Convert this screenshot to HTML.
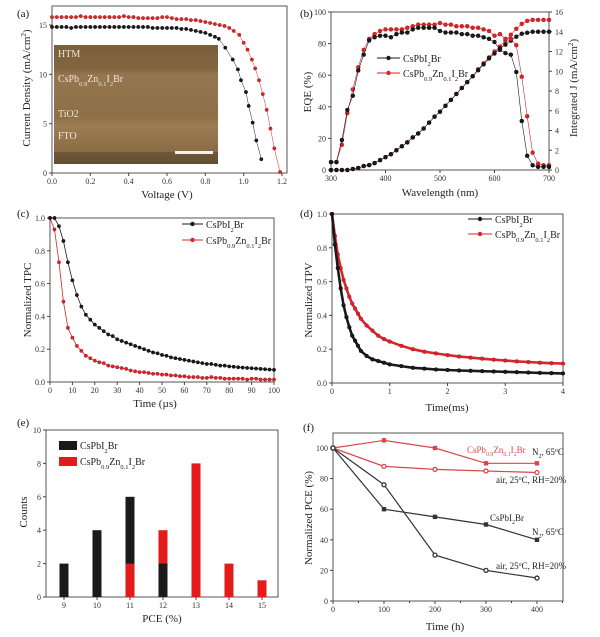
<!DOCTYPE html>
<html><head><meta charset="utf-8"><style>
html,body{margin:0;padding:0;background:#fff;}
svg{display:block;font-family:"Liberation Serif",serif;}
</style></head><body>
<svg id="fig" width="600" height="637" viewBox="0 0 600 637"></svg>
<script>
// ---- data: panel a (J-V) ----
const vBlack=[0,0.025,0.05,0.075,0.1,0.125,0.15,0.175,0.2,0.225,0.25,0.275,0.3,0.325,0.35,0.375,0.4,0.425,0.45,0.475,0.5,0.525,0.55,0.575,0.6,0.625,0.65,0.675,0.7,0.725,0.75,0.775,0.8,0.825,0.85,0.87,0.904,0.943,0.97,0.986,1.012,1.026,1.047,1.066,1.092];
const jBlack=[14.8,14.8,14.8,14.8,14.7,14.8,14.8,14.8,14.8,14.8,14.8,14.8,14.8,14.8,14.8,14.8,14.8,14.8,14.8,14.8,14.8,14.7,14.7,14.7,14.7,14.7,14.7,14.6,14.6,14.5,14.4,14.3,14.2,14.0,13.8,13.6,12.7,11.5,10.5,9.4,8.2,6.8,5.1,3.3,1.4];
const vRed=[0,0.025,0.05,0.075,0.1,0.125,0.15,0.175,0.2,0.225,0.25,0.275,0.3,0.325,0.35,0.375,0.4,0.425,0.45,0.475,0.5,0.525,0.55,0.575,0.6,0.625,0.65,0.675,0.7,0.725,0.75,0.775,0.8,0.825,0.85,0.875,0.9,0.925,0.948,0.977,1.0,1.02,1.043,1.06,1.08,1.1,1.12,1.14,1.16,1.19];
const jRed=[15.8,15.8,15.8,15.8,15.8,15.8,15.9,15.8,15.8,15.8,15.8,15.8,15.8,15.8,15.8,15.9,15.8,15.8,15.7,15.7,15.7,15.7,15.7,15.8,15.8,15.7,15.6,15.6,15.6,15.5,15.5,15.4,15.3,15.2,15.1,15.0,14.9,14.7,14.4,14.0,13.2,12.5,11.5,10.6,9.4,8.0,6.4,4.5,2.5,0.1];
// ---- panel b (EQE) ----
const wl=[300,310,320,330,340,350,360,370,380,390,400,410,420,430,440,450,460,470,480,490,500,510,520,530,540,550,560,570,580,590,600,610,620,630,640,650,660,670,680,690,700];
const eqeBlack=[5,5,19,38,47,63,73,82,84,85,85,84,86,87,87,89,90,90,90,90,88,87,87,87,86,86,85,85,84,83,81,76,74,73,62,31,9,3,2,2,2];
const eqeRed=[5,5,16,36,51,65,76,83,86,88,89,89,89,89,90,91,92,92,92,92,93,92,92,91,91,91,90,90,89,88,85,86,83,83,79,59,34,11,4,3,3];
const intBlack=[0,0,0,0,0.1,0.2,0.4,0.5,0.7,1.0,1.3,1.6,2.0,2.4,2.8,3.3,3.7,4.2,4.8,5.4,5.9,6.5,7.1,7.7,8.3,8.9,9.5,10.1,10.7,11.3,11.8,12.3,12.7,13.1,13.5,13.8,13.9,14.0,14.0,14.0,14.0];
const intRed=[0,0,0,0,0.1,0.2,0.4,0.5,0.7,1.0,1.3,1.6,2.0,2.4,2.8,3.3,3.7,4.2,4.8,5.4,5.9,6.5,7.1,7.7,8.3,8.9,9.5,10.2,10.8,11.4,12.0,12.5,13.1,13.7,14.3,14.8,15.1,15.2,15.2,15.2,15.2];
// ---- panel c (TPC) ----
const tC=[0,2,4,6,8,10,12,14,16,18,20,22,24,26,28,30,32,34,36,38,40,42,44,46,48,50,52,54,56,58,60,62,64,66,68,70,72,74,76,78,80,82,84,86,88,90,92,94,96,98,100];
const tpcBlack=[1.0,1.0,0.95,0.86,0.73,0.62,0.53,0.46,0.41,0.38,0.35,0.33,0.31,0.29,0.28,0.26,0.25,0.24,0.23,0.22,0.21,0.2,0.19,0.18,0.175,0.165,0.16,0.15,0.145,0.14,0.135,0.13,0.125,0.12,0.115,0.11,0.11,0.105,0.1,0.1,0.095,0.093,0.09,0.088,0.086,0.084,0.082,0.08,0.078,0.076,0.074];
const tpcRed=[1.0,0.93,0.73,0.49,0.33,0.27,0.22,0.19,0.16,0.145,0.13,0.12,0.115,0.1,0.095,0.09,0.085,0.08,0.07,0.065,0.06,0.06,0.055,0.05,0.05,0.045,0.045,0.04,0.04,0.035,0.035,0.03,0.03,0.03,0.025,0.025,0.03,0.025,0.025,0.02,0.02,0.02,0.02,0.02,0.015,0.02,0.02,0.015,0.015,0.015,0.015];
// ---- panel d (TPV) ----
const tD=[0,0.05,0.1,0.15,0.2,0.25,0.3,0.35,0.4,0.45,0.5,0.6,0.7,0.8,0.9,1.0,1.2,1.4,1.6,1.8,2.0,2.2,2.4,2.6,2.8,3.0,3.2,3.4,3.6,3.8,4.0];
const tpvBlack=[1.0,0.82,0.68,0.56,0.46,0.39,0.33,0.28,0.25,0.22,0.19,0.16,0.14,0.13,0.12,0.11,0.1,0.09,0.085,0.08,0.077,0.074,0.072,0.07,0.068,0.066,0.064,0.062,0.06,0.058,0.057];
const tpvRed=[1.0,0.87,0.76,0.68,0.61,0.56,0.51,0.47,0.44,0.41,0.38,0.34,0.31,0.28,0.26,0.245,0.22,0.2,0.185,0.175,0.165,0.157,0.15,0.144,0.138,0.133,0.128,0.124,0.12,0.117,0.115];
// ---- panel e (histogram) ----
const pceCats=[9,10,11,12,13,14,15];
const countsBlack=[2,4,6,2,0,0,0];
const countsRed=[0,0,2,4,8,2,1];
// ---- panel f (stability) ----
const hours=[0,100,200,300,400];
const redN2=[100,105,100,90,90];
const redAir=[100,88,86,85,84];
const blackN2=[100,60,55,50,40];
const blackAir=[100,76,30,20,15];

const NS='http://www.w3.org/2000/svg';
const svg=document.getElementById('fig');
const BLK='#1a1a1a', RED='#d8262a';
function mk(tag,parent){const e=document.createElementNS(NS,tag);parent.appendChild(e);return e;}
function txt(parent,x,y,s,size,anchor,fill){
  const t=mk('text',parent);t.setAttribute('x',x);t.setAttribute('y',y);
  t.setAttribute('font-size',size);t.setAttribute('text-anchor',anchor||'start');t.setAttribute('fill',fill||'#222');
  // s uses _{..} and ^{..}
  const re=/([_^])\{([^}]*)\}|([^_^]+)/g;let m;
  while((m=re.exec(s))){const ts=mk('tspan',t);
    if(m[3]){ts.textContent=m[3];}
    else{ts.textContent=m[2];ts.setAttribute('font-size',size*0.65);ts.setAttribute('baseline-shift',m[1]==='_'?'sub':'super');}}
  return t;
}
function panel(c){
  const g=mk('g',svg);
  
  
  const sx=v=>c.x0+(v-c.xmin)/(c.xmax-c.xmin)*(c.x1-c.x0);
  const sy=v=>c.y0-(v-c.ymin)/(c.ymax-c.ymin)*(c.y0-c.y1);
  const box=mk('rect',g);
  
  
  box.setAttribute('x',c.x0);box.setAttribute('y',c.boxT);box.setAttribute('width',c.boxR-c.x0);box.setAttribute('height',c.y0-c.boxT);
  box.setAttribute('fill','none');box.setAttribute('stroke','#444');box.setAttribute('stroke-width','0.9');
  const ax=mk('g',g);
  
  
  (c.xticks||[]).forEach(v=>{const X=sx(v);const l=mk('line',ax);l.setAttribute('x1',X);l.setAttribute('x2',X);l.setAttribute('y1',c.y0);l.setAttribute('y2',c.y0+3);l.setAttribute('stroke','#444');
    const t=txt(ax,X,c.y0+11,c.xfmt?c.xfmt(v):String(v),8,'middle','#333');
    
    });
  const ay=mk('g',g);
  
  
  (c.yticks||[]).forEach(v=>{const Y=sy(v);const l=mk('line',ay);l.setAttribute('x1',c.x0-3);l.setAttribute('x2',c.x0);l.setAttribute('y1',Y);l.setAttribute('y2',Y);l.setAttribute('stroke','#444');
    const t=txt(ay,c.x0-5,Y+3,c.yfmt?c.yfmt(v):String(v),8,'end','#333');
    
    });
  if(c.xtitle){const t=txt(g,c.xtx,c.xty,c.xtitle,11,'middle','#222');
    
    }
  if(c.ytitle){const t=txt(g,0,0,c.ytitle,11,'middle','#222');t.setAttribute('transform','translate('+c.ytx+','+c.yty+') rotate(-90)');
    
    }
  const lab=txt(g,c.lx,c.ly,c.label,11,'start','#111');
  
  
  return {g,sx,sy};
}
function series(g,sx,sy,xs,ys,color,marker,r,lw,name){
  const s=mk('g',g);
  
  
  const p=mk('path',s);
  p.setAttribute('d',xs.map((x,i)=>(i?'L':'M')+sx(x).toFixed(1)+','+sy(ys[i]).toFixed(1)).join(''));
  p.setAttribute('fill','none');p.setAttribute('stroke',color);p.setAttribute('stroke-width',lw);
  xs.forEach((x,i)=>{let m;
    if(marker==='sq'){m=mk('rect',s);m.setAttribute('x',sx(x)-r);m.setAttribute('y',sy(ys[i])-r);m.setAttribute('width',2*r);m.setAttribute('height',2*r);m.setAttribute('fill',color);}
    else if(marker==='oc'){m=mk('circle',s);m.setAttribute('cx',sx(x));m.setAttribute('cy',sy(ys[i]));m.setAttribute('r',r);m.setAttribute('fill','#fff');m.setAttribute('stroke',color);m.setAttribute('stroke-width','1.3');}
    else{m=mk('circle',s);m.setAttribute('cx',sx(x));m.setAttribute('cy',sy(ys[i]));m.setAttribute('r',r);m.setAttribute('fill',color);m.setAttribute('stroke',color==='#1a1a1a'?'#000':'#a01015');m.setAttribute('stroke-width','0.4');}
    
    });
  return s;
}
function legendEntry(g,x1,x2,y,color,label,tx){
  const le=mk('g',g);
  
  
  const l=mk('line',le);l.setAttribute('x1',x1);l.setAttribute('x2',x2);l.setAttribute('y1',y);l.setAttribute('y2',y);l.setAttribute('stroke',color);l.setAttribute('stroke-width','1');
  const c=mk('circle',le);c.setAttribute('cx',(x1+x2)/2);c.setAttribute('cy',y);c.setAttribute('r',2.2);c.setAttribute('fill',color);
  txt(le,tx,y+4,label,10,'start','#222');
}
const f1=v=>v.toFixed(1);

// ---- (a) ----
const A=panel({name:'panel-a-jv',label:'(a)',lx:17,ly:17,x0:52,x1:282,xmin:0,xmax:1.2,y0:173,y1:25,ymin:0,ymax:15,boxR:287,boxT:6,
  xticks:[0,0.2,0.4,0.6,0.8,1.0,1.2],xfmt:f1,yticks:[0,5,10,15],xtitle:'Voltage (V)',xtx:167,xty:198,ytitle:'Current Density (mA/cm^{2})',ytx:30,yty:88});
// inset SEM image
const ins=mk('g',A.g);


ins.innerHTML='<defs><linearGradient id="semg" x1="0" y1="0" x2="0" y2="1"><stop offset="0" stop-color="#7a5f3c"/><stop offset="0.2" stop-color="#826640"/><stop offset="0.25" stop-color="#947650"/><stop offset="0.6" stop-color="#8d6f48"/><stop offset="0.68" stop-color="#9c7c52"/><stop offset="0.9" stop-color="#8a6b45"/><stop offset="1" stop-color="#6e5636"/></linearGradient></defs>'+
 '<rect x="54" y="45" width="164" height="119" fill="url(#semg)"/>'+
 '<rect x="54" y="152" width="164" height="12" fill="#5e4a30" opacity="0.6"/>'+
 '<rect x="175" y="151" width="38" height="3" fill="#f4f0ea"/>';
[['HTM',58,57],['CsPb_{0.9}Zn_{0.1}I_{2}Br',58,82],['TiO2',58,117],['FTO',58,139]].forEach(d=>{
  const t=txt(ins,d[1],d[2],d[0],10,'start','#efe6d8');
  
  });
series(A.g,A.sx,A.sy,vRed,jRed,RED,'c',1.7,0.5,'series-zn-doped');
series(A.g,A.sx,A.sy,vBlack,jBlack,BLK,'c',1.7,0.5,'series-cspbi2br');

// ---- (b) ----
const B=panel({name:'panel-b-eqe',label:'(b)',lx:300,ly:17,x0:331,x1:549,xmin:300,xmax:700,y0:170,y1:12,ymin:0,ymax:100,boxR:549,boxT:12,
  xticks:[300,400,500,600,700],yticks:[0,20,40,60,80,100],xtitle:'Wavelength (nm)',xtx:440,xty:196,ytitle:'EQE (%)',ytx:311,yty:92});
const syR=v=>170-v/16*158;
const ry=mk('g',B.g);


[0,2,4,6,8,10,12,14,16].forEach(v=>{const Y=syR(v);const l=mk('line',ry);l.setAttribute('x1',549);l.setAttribute('x2',552);l.setAttribute('y1',Y);l.setAttribute('y2',Y);l.setAttribute('stroke','#444');
  const t=txt(ry,555,Y+3,String(v),8,'start','#333');
  
  });
const rt=txt(B.g,0,0,'Integrated J (mA/cm^{2})',11,'middle','#222');rt.setAttribute('transform','translate(577,88) rotate(-90)');


series(B.g,B.sx,syR,wl,intRed,RED,'c',2,0.6,'integrated-j-zn');
series(B.g,B.sx,syR,wl,intBlack,BLK,'c',2,0.6,'integrated-j-cspbi2br');
series(B.g,B.sx,B.sy,wl,eqeRed,RED,'c',2,0.6,'eqe-zn');
series(B.g,B.sx,B.sy,wl,eqeBlack,BLK,'c',2,0.6,'eqe-cspbi2br');
legendEntry(B.g,377,400,58,BLK,'CsPbI_{2}Br',403);
legendEntry(B.g,377,400,73,RED,'CsPb_{0.9}Zn_{0.1}I_{2}Br',403);

// ---- (c) ----
const C=panel({name:'panel-c-tpc',label:'(c)',lx:17,ly:217,x0:50,x1:274,xmin:0,xmax:100,y0:382,y1:218,ymin:0,ymax:1,boxR:274,boxT:218,
  xticks:[0,10,20,30,40,50,60,70,80,90,100],yticks:[0,0.2,0.4,0.6,0.8,1.0],yfmt:f1,xtitle:'Time (\u00b5s)',xtx:155,xty:407,ytitle:'Normalized TPC',ytx:31,yty:300});
series(C.g,C.sx,C.sy,tC,tpcRed,RED,'c',1.7,0.8,'tpc-zn');
series(C.g,C.sx,C.sy,tC,tpcBlack,BLK,'c',1.7,0.8,'tpc-cspbi2br');
legendEntry(C.g,182,203,224,BLK,'CsPbI_{2}Br',206);
legendEntry(C.g,182,203,240,RED,'CsPb_{0.9}Zn_{0.1}I_{2}Br',206);

// ---- (d) ----
const D=panel({name:'panel-d-tpv',label:'(d)',lx:300,ly:217,x0:332,x1:563,xmin:0,xmax:4,y0:383,y1:214,ymin:0,ymax:1,boxR:563,boxT:214,
  xticks:[0,1,2,3,4],yticks:[0,0.2,0.4,0.6,0.8,1.0],yfmt:f1,xtitle:'Time(ms)',xtx:447,xty:411,ytitle:'Normalized TPV',ytx:312,yty:300});
series(D.g,D.sx,D.sy,tD,tpvRed,RED,'c',1.9,2.6,'tpv-zn');
series(D.g,D.sx,D.sy,tD,tpvBlack,BLK,'c',1.9,2.6,'tpv-cspbi2br');
legendEntry(D.g,468,492,219,BLK,'CsPbI_{2}Br',495);
legendEntry(D.g,468,492,234,RED,'CsPb_{0.9}Zn_{0.1}I_{2}Br',495);

// ---- (e) ----
const E=panel({name:'panel-e-histogram',label:'(e)',lx:17,ly:426,x0:46,x1:278,xmin:8.455,xmax:15.485,y0:597,y1:430,ymin:0,ymax:10,boxR:278,boxT:430,
  xticks:pceCats,yticks:[0,2,4,6,8,10],xtitle:'PCE (%)',xtx:162,xty:622,ytitle:'Counts',ytx:27,yty:512});
pceCats.forEach((c,i)=>{
  const items=[[countsBlack[i],BLK,'bar-cspbi2br-'+c],[countsRed[i],'#e31b1b','bar-zn-'+c]].filter(d=>d[0]>0).sort((a,b)=>b[0]-a[0]);
  items.forEach(d=>{const r=mk('rect',E.g);
    
    
    r.setAttribute('x',E.sx(c)-4.5);r.setAttribute('width',9);r.setAttribute('y',E.sy(d[0]));r.setAttribute('height',E.sy(0)-E.sy(d[0]));r.setAttribute('fill',d[1]);});
});
[[441,BLK,'CsPbI_{2}Br'],[457,'#e31b1b','CsPb_{0.9}Zn_{0.1}I_{2}Br']].forEach(d=>{
  const le=mk('g',E.g);
  
  
  const r=mk('rect',le);r.setAttribute('x',59);r.setAttribute('y',d[0]);r.setAttribute('width',18);r.setAttribute('height',9);r.setAttribute('fill',d[1]);
  txt(le,80,d[0]+8,d[2],10,'start','#222');});

// ---- (f) ----
const F=panel({name:'panel-f-stability',label:'(f)',lx:303,ly:431,x0:333,x1:537,xmin:0,xmax:400,y0:601,y1:448,ymin:0,ymax:100,boxR:563,boxT:433,
  xticks:[0,100,200,300,400],yticks:[0,20,40,60,80,100],xtitle:'Time (h)',xtx:445,xty:630,ytitle:'Normalized PCE (%)',ytx:312,yty:518});
[50,150,250,350,450].forEach(v=>{const X=F.sx(v);if(X>563)return;const l=mk('line',F.g);l.setAttribute('x1',X);l.setAttribute('x2',X);l.setAttribute('y1',601);l.setAttribute('y2',603);l.setAttribute('stroke','#444');});
series(F.g,F.sx,F.sy,hours,redN2,'#d8484b','sq',2.2,1.2,'red-n2-65c');
series(F.g,F.sx,F.sy,hours,redAir,'#d8484b','oc',2,1.2,'red-air-25c');
series(F.g,F.sx,F.sy,hours,blackN2,'#333','sq',2.2,1.2,'black-n2-65c');
series(F.g,F.sx,F.sy,hours,blackAir,'#333','oc',2,1.2,'black-air-25c');
[['CsPb_{0.9}Zn_{0.1}I_{2}Br',467,453,'#d8484b'],['N_{2}, 65^{o}C',532,455,'#222'],['air, 25^{o}C, RH=20%',496,483,'#222'],
 ['CsPbI_{2}Br',490,521,'#222'],['N_{2}, 65^{o}C',532,535,'#222'],['air, 25^{o}C, RH=20%',496,569,'#222']].forEach(d=>{
  const t=txt(F.g,d[1],d[2],d[0],9,'start',d[3]);
  
  });
</script>
</body></html>
